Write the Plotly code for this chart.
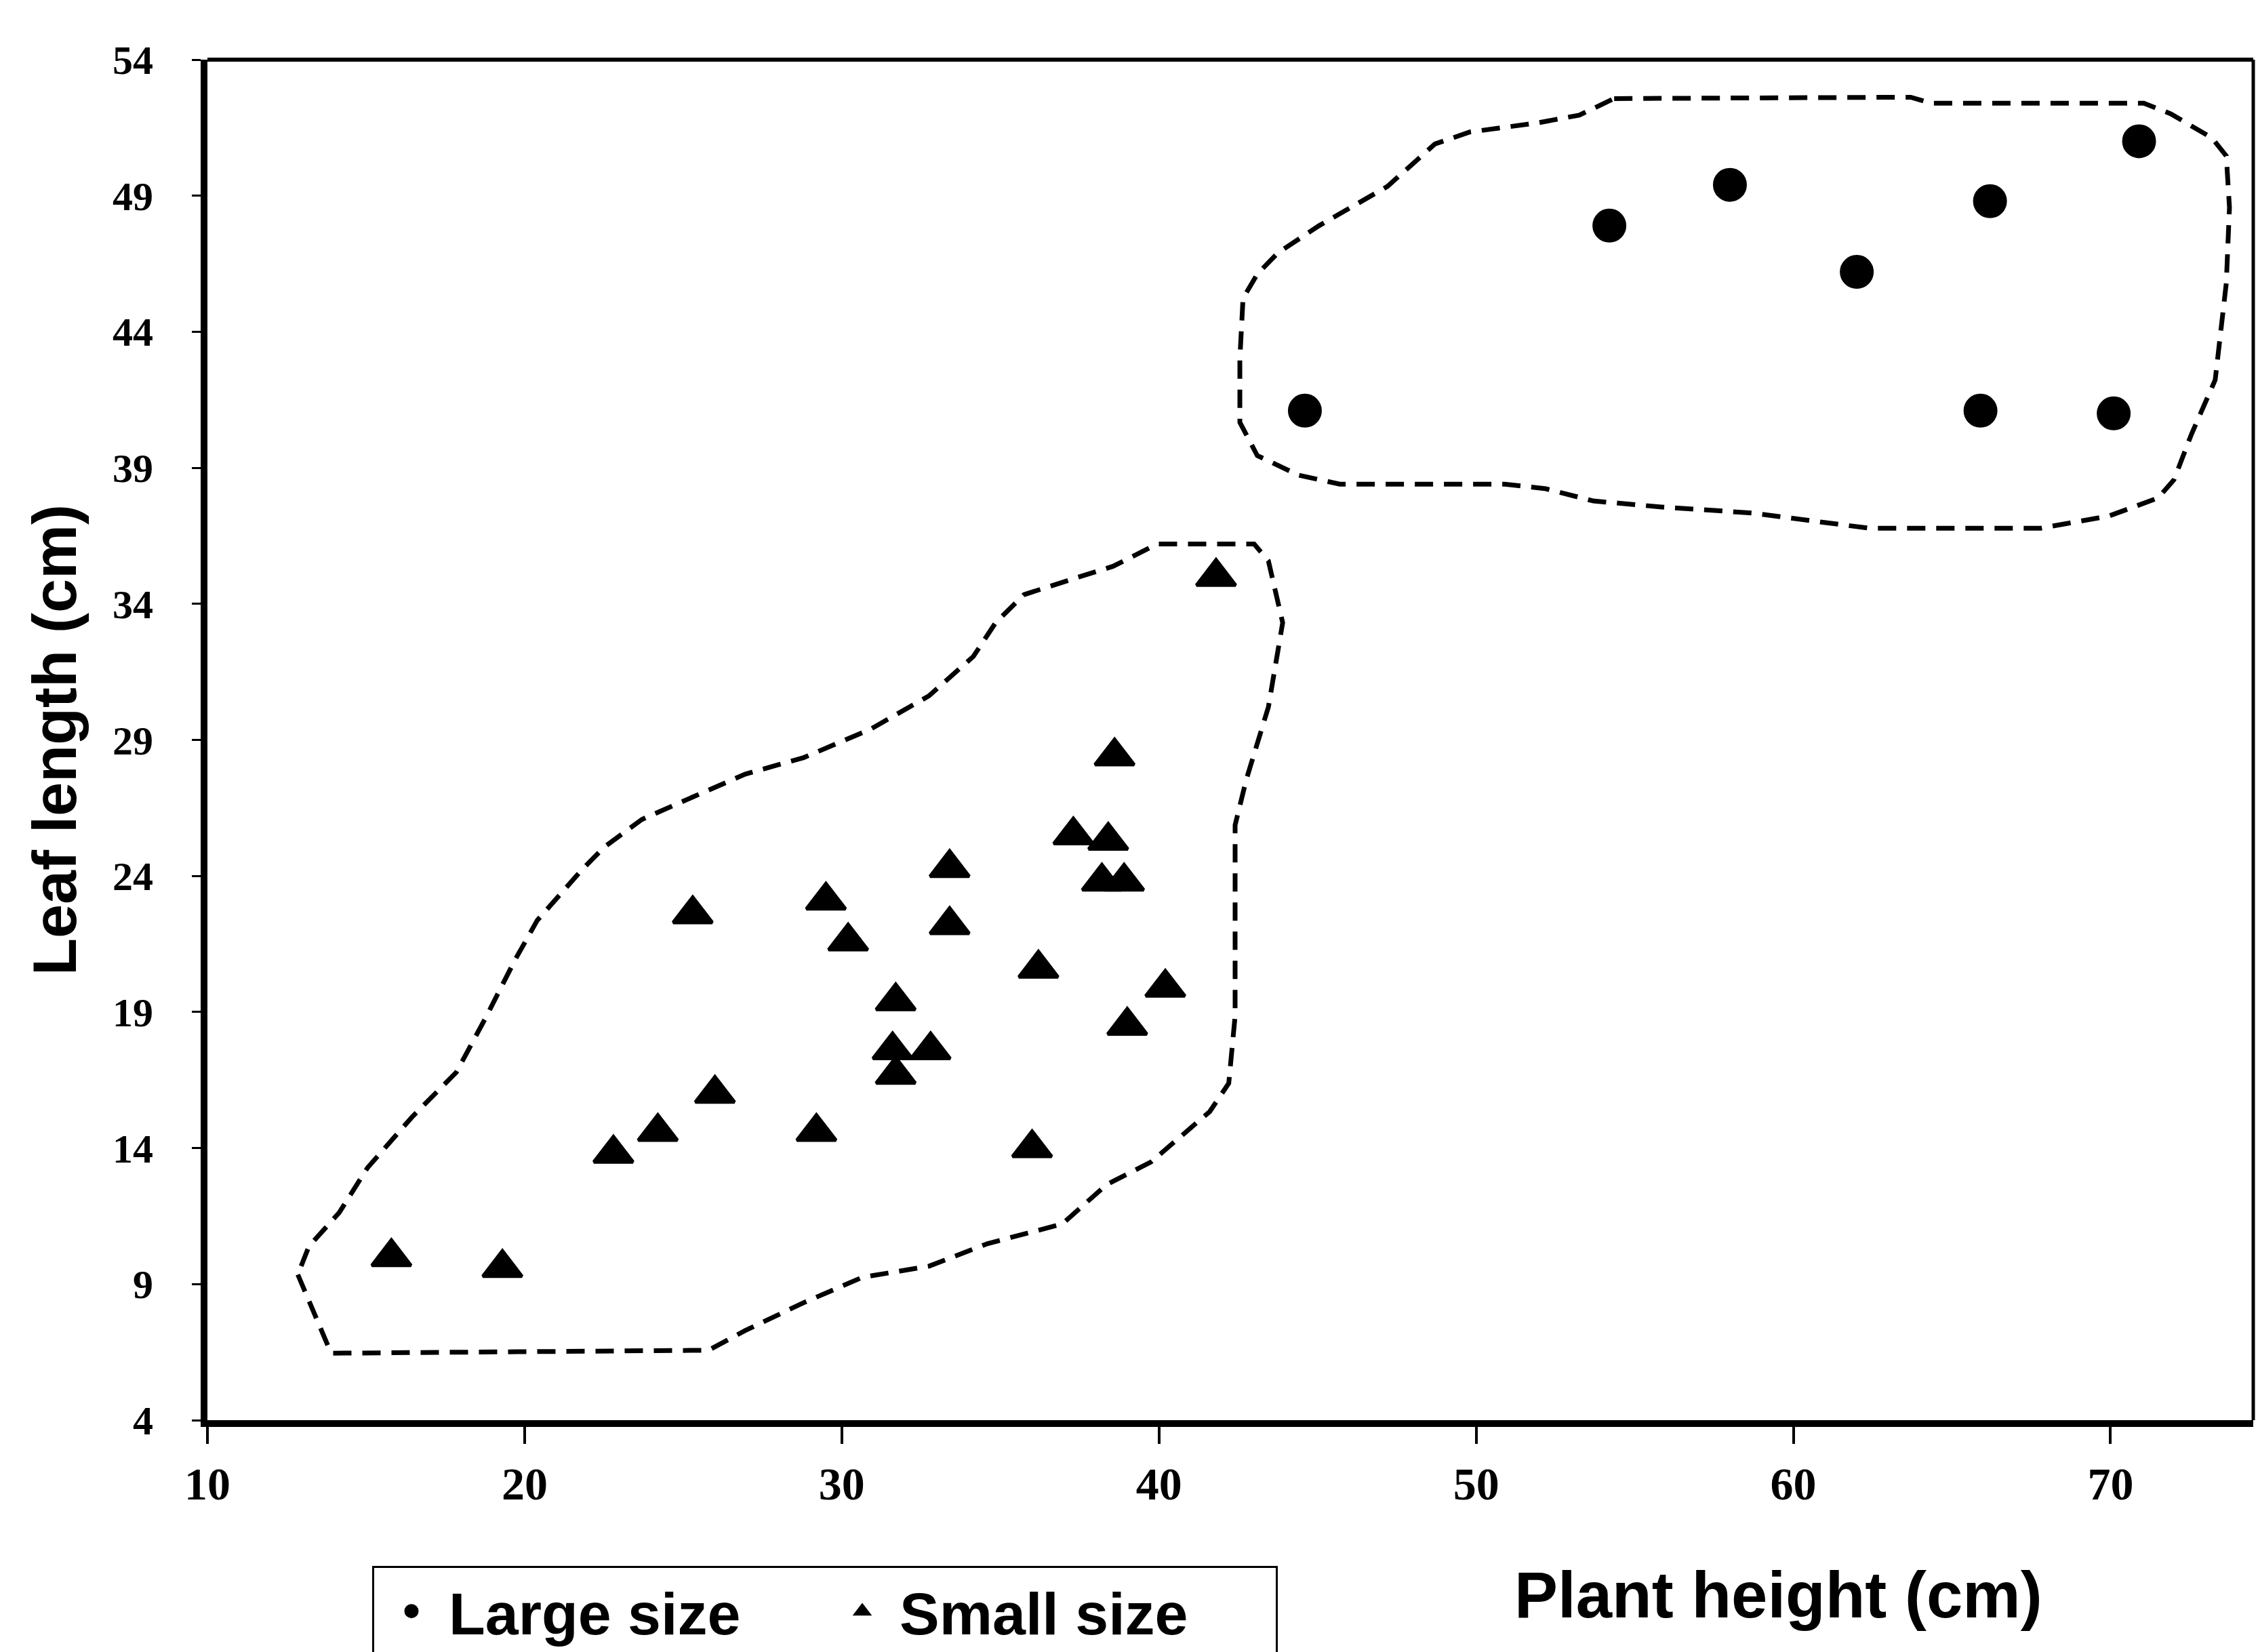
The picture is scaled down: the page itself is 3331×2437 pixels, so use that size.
import plotly.graph_objects as go

# ---------------- data ----------------
large_x = [44.6, 54.2, 58.0, 62.0, 66.2, 65.9, 70.1, 70.9]
large_y = [41.1, 47.9, 49.4, 46.2, 48.8, 41.1, 41.0, 51.0]

small_x = [41.8, 38.6, 37.3, 38.4, 38.2, 38.9, 33.4, 33.4, 29.5, 30.2, 25.3, 36.2, 40.2,
           39.0, 31.7, 32.8, 31.6, 31.7, 26.0, 24.2, 22.8, 29.2, 36.0, 15.8, 19.3]
small_y = [35.0, 28.4, 25.5, 25.3, 23.8, 23.8, 24.3, 22.2, 23.1, 21.6, 22.6, 20.6, 19.9,
           18.5, 19.4, 17.6, 17.6, 16.7, 16.0, 14.6, 13.8, 14.6, 14.0, 10.0, 9.6]

small_outline_x = [12.85, 13.9, 25.8, 26.95, 28.8, 30.65, 32.75, 34.6, 36.95, 38.35, 39.75, 41.6,
                   42.2, 42.4, 42.4, 42.75, 43.45, 43.9, 43.45, 43.0, 39.95, 38.55, 37.4, 35.75,
                   34.85, 34.15, 32.75, 30.9, 28.8, 26.95, 25.3, 23.7, 22.5, 21.8, 20.4, 19.7,
                   18.8, 17.85, 16.45, 15.05, 14.15, 13.2, 12.85]
small_outline_y = [9.35, 6.46, 6.57, 7.29, 8.32, 9.25, 9.66, 10.49, 11.21, 12.66, 13.49, 15.34,
                   16.38, 18.85, 25.87, 27.53, 30.21, 33.31, 35.58, 36.20, 36.20, 35.38, 34.96, 34.34,
                   33.31, 32.07, 30.62, 29.39, 28.35, 27.74, 26.90, 26.08, 25.05, 24.22, 22.37, 20.92,
                   18.85, 16.79, 15.14, 13.28, 11.62, 10.39, 9.35]

large_outline_x = [54.35, 63.7, 64.35, 71.05, 71.9, 73.2, 73.65, 73.75, 73.65, 73.3, 72.55, 72.0,
                   71.5, 69.95, 67.8, 62.4, 60.85, 58.7, 55.85, 53.7, 52.2, 50.9, 45.7, 44.4,
                   43.1, 42.55, 42.55, 42.65, 43.1, 43.75, 45.05, 47.2, 48.7, 49.8, 51.95, 53.25, 54.35]
large_outline_y = [52.57, 52.62, 52.40, 52.40, 52.01, 51.12, 50.46, 48.57, 45.79, 42.23, 40.23, 38.56,
                   37.89, 37.23, 36.78, 36.78, 37.01, 37.34, 37.56, 37.78, 38.23, 38.40, 38.40, 38.73,
                   39.45, 40.67, 43.01, 45.23, 46.12, 46.90, 47.90, 49.34, 50.90, 51.34, 51.68, 51.96, 52.57]

x_ticks = [10, 20, 30, 40, 50, 60, 70]
y_ticks = [4, 9, 14, 19, 24, 29, 34, 39, 44, 49, 54]
x_title = "Plant height (cm)"
y_title = "Leaf length (cm)"
series_names = ["Large size", "Small size"]

# ---------------- figure ----------------
W, H = 3331, 2437
ML, MR, MT, MB = 306, 7, 88, 342

fig = go.Figure()

outline_line = dict(color="black", width=7, dash="27px,16px")
fig.add_trace(go.Scatter(x=small_outline_x, y=small_outline_y, mode="lines",
                         line=outline_line, showlegend=False, hoverinfo="skip"))
fig.add_trace(go.Scatter(x=large_outline_x, y=large_outline_y, mode="lines",
                         line=outline_line, showlegend=False, hoverinfo="skip"))

fig.add_trace(go.Scatter(x=large_x, y=large_y, mode="markers", name=series_names[0],
                         marker=dict(symbol="circle", size=45, color="black",
                                     line=dict(width=5, color="black"))))
fig.add_trace(go.Scatter(x=small_x, y=small_y, mode="markers", name=series_names[1],
                         marker=dict(symbol="triangle-up", size=50, color="black",
                                     line=dict(width=5, color="black"))))

tick_font_x = dict(family="Liberation Serif", size=68, color="black", weight="bold")
tick_font_y = dict(family="Liberation Serif", size=60, color="black", weight="bold")

fig.update_layout(
    width=W, height=H,
    margin=dict(l=ML, r=MR, t=MT, b=MB, autoexpand=False),
    paper_bgcolor="white", plot_bgcolor="white",
    xaxis=dict(range=[10, 74.5], tickmode="array", tickvals=x_ticks,
               showgrid=False, zeroline=False, showline=True, linecolor="black", linewidth=10,
               ticks="outside", ticklen=25, tickwidth=4, tickcolor="black",
               tickfont=tick_font_x, ticklabelstandoff=0),
    yaxis=dict(range=[4, 54], tickmode="array", tickvals=y_ticks,
               showgrid=False, zeroline=False, showline=True, linecolor="black", linewidth=10,
               ticks="outside", ticklen=13, tickwidth=3, tickcolor="black",
               tickfont=tick_font_y, ticklabelstandoff=45,
               title=dict(text=y_title, standoff=28,
                          font=dict(family="Liberation Sans", size=90, color="black", weight="bold"))),
    xaxis2=dict(range=[10, 74.5], overlaying="x", anchor="y", side="bottom",
                tickmode="array", tickvals=x_ticks, showticklabels=False,
                showgrid=False, zeroline=False, showline=False,
                ticks="inside", ticklen=25, tickwidth=4, tickcolor="black"),
    yaxis2=dict(range=[4, 54], overlaying="y", anchor="x", side="left",
                tickmode="array", tickvals=y_ticks, showticklabels=False,
                showgrid=False, zeroline=False, showline=False,
                ticks="inside", ticklen=13, tickwidth=3, tickcolor="black"),
    legend=dict(orientation="h", xref="container", yref="container",
                x=549 / W, y=1 - 2310 / H, xanchor="left", yanchor="top",
                font=dict(family="Liberation Sans", size=88, color="black", weight="bold"),
                bordercolor="black", borderwidth=3, bgcolor="white",
                itemwidth=100, entrywidth=550, entrywidthmode="pixels"),
    shapes=[
        dict(type="line", xref="paper", yref="paper", x0=0, x1=1, y0=1, y1=1,
             line=dict(color="black", width=6)),
        dict(type="line", xref="paper", yref="paper", x0=1, x1=1, y0=0, y1=1,
             line=dict(color="black", width=5)),
    ],
    annotations=[
        dict(text=x_title, xref="paper", yref="paper",
             x=(2623 - ML) / (W - ML - MR), y=-(2352 - (H - MB)) / (H - MT - MB),
             xanchor="center", yanchor="middle", showarrow=False,
             font=dict(family="Liberation Sans", size=96, color="black", weight="bold")),
    ],
)

fig.write_html("out.html", config={"displayModeBar": False},
               post_script="document.body.style.margin='0';")
